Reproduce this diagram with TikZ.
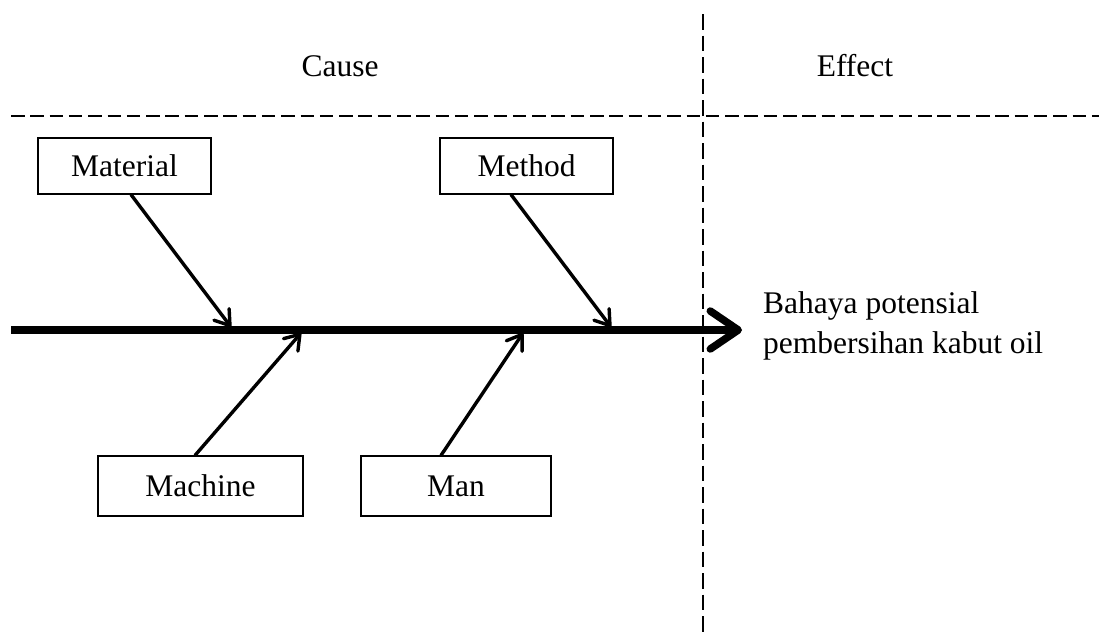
\documentclass[tikz,border=0pt]{standalone}
\usepackage{fontspec}
\setmainfont{Liberation Serif}
\usetikzlibrary{arrows.meta,calc}
\begin{document}
\begin{tikzpicture}[x=1pt,y=-1pt,
  every node/.style={font=\fontsize{31.5}{40}\selectfont,inner sep=0pt},
  causebox/.style={draw,line width=1.2pt},
  hdivider/.style={line width=1.8pt,dash pattern=on 13.5pt off 5.8pt},
  vdivider/.style={line width=1.8pt,dash pattern=on 15.5pt off 6pt},
  spine/.style={line width=7.5pt,-{Straight Barb[length=28pt,width=38pt,round]}},
  branch/.style={line width=3.4pt,-{Straight Barb[length=14pt,width=19pt,round]}},
]
\useasboundingbox (0,0) rectangle (1099,637);

% dividers between the cause and effect areas
\coordinate (hL) at (11,116);
\coordinate (hR) at (1099,116);
\coordinate (vT) at (703,14);
\coordinate (vB) at (703,637);
\draw[hdivider] (hL) -- (hR);
\draw[vdivider] (vT) -- (vB);

% headings
\node (cause) at (340,66) {Cause};
\node (effect) at (855,66) {Effect};

% cause categories
\node[causebox,minimum width=173pt,minimum height=56pt] (material) at (124.5,166) {Material};
\node[causebox,minimum width=173pt,minimum height=56pt] (method) at (526.5,166) {Method};
\node[causebox,minimum width=205pt,minimum height=60pt] (machine) at (200.5,486) {Machine};
\node[causebox,minimum width=190pt,minimum height=60pt] (man) at (456,486) {Man};

% effect
\node[anchor=west,align=left] (result) at (763,326) {Bahaya potensial\\pembersihan kabut oil};

% main spine
\coordinate (tail) at (11,330);
\coordinate (head) at (742,330);
\draw[spine] (tail) -- (head);

% branch tips on the spine
\coordinate (tipA) at (231,327);
\coordinate (tipB) at (611,327);
\coordinate (tipC) at (301,333);
\coordinate (tipD) at (523,333);

\draw[branch] ([xshift=6.5pt]material.south) -- (tipA);
\draw[branch] ([xshift=-15.5pt]method.south) -- (tipB);
\draw[branch] ([xshift=-5.5pt]machine.north) -- (tipC);
\draw[branch] ([xshift=-15pt]man.north) -- (tipD);
\end{tikzpicture}
\end{document}
